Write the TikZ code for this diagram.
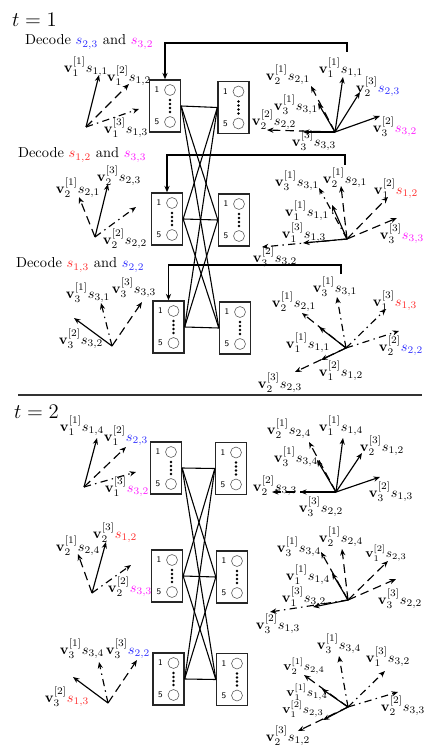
\documentclass[tikz,border=0pt]{standalone}
\usepackage{tikz}
\usepackage{xcolor}
\usetikzlibrary{arrows.meta,calc,positioning}
\definecolor{symblue}{RGB}{45,45,255}
\definecolor{symred}{RGB}{255,45,45}
\definecolor{symmag}{RGB}{255,25,255}
\definecolor{antgray}{RGB}{90,90,90}

\newcommand{\vsym}[3]{$\mathbf{v}_{#1}^{[#2]}#3$}
\newcommand{\antbox}[3]{%
  \node[rxbox] (#1) at (#2,#3) {};
  \node[antcirc] (#1-top) at ($(#1.center)+(5,-16)$) {};
  \node[antcirc] (#1-bot) at ($(#1.center)+(5,16)$) {};
  \node[antnum] (#1-n1) at ($(#1.center)+(-8,-16)$) {1};
  \node[antnum] (#1-n5) at ($(#1.center)+(-8,16)$) {5};
  \foreach \dotpos in {-6,-2,2,6}
    \fill ($(#1.center)+(5,\dotpos)$) circle (0.95pt);
}

\begin{document}
\begin{tikzpicture}[
    x=0.694pt, y=-0.694pt,
    >={Stealth[length=4.5pt, width=3.6pt]},
    rxbox/.style={draw=black!85, line width=0.9pt, minimum width=21.5pt, minimum height=36.1pt, inner sep=0pt},
    antcirc/.style={circle, draw=antgray, line width=0.4pt, minimum size=7.6pt, inner sep=0pt},
    antnum/.style={font=\sffamily\fontsize{6}{6}\selectfont, inner sep=0pt},
    link/.style={line width=0.75pt},
    vsolid/.style={->, line width=0.8pt},
    vdash/.style={->, line width=0.8pt, dash pattern=on 6pt off 3.5pt},
    vdot/.style={->, line width=0.8pt, dash pattern=on 5pt off 3pt on 1pt off 3pt},
    vlab/.style={inner sep=0pt},
    dectxt/.style={anchor=west},
    fback/.style={->, line width=0.8pt}
]
\useasboundingbox (0,0) rectangle (431,748);

% ---------------- t = 1 ----------------
\node[anchor=west, font=\Large] (t1) at (7,20) {$t=1$};
\node[dectxt] (dec1) at (20,42) {Decode $\textcolor{symblue}{s_{2,3}}$ and $\textcolor{symmag}{s_{3,2}}$};
\node[dectxt] (dec2) at (13,155) {Decode $\textcolor{symred}{s_{1,2}}$ and $\textcolor{symmag}{s_{3,3}}$};
\node[dectxt] (dec3) at (11,265) {Decode $\textcolor{symred}{s_{1,3}}$ and $\textcolor{symblue}{s_{2,2}}$};

% Antenna boxes
\antbox{L1}{165}{106}
\antbox{R1}{233.5}{107.5}
\antbox{L2}{167}{219}
\antbox{R2}{234}{220}
\antbox{L3}{168.5}{327}
\antbox{R3}{235}{328}

% Channel links
\foreach \a in {L1,L2,L3}
  \foreach \b in {R1,R2,R3}
    \draw[link] (\a.east) -- (\b.west);

% Feedback
\coordinate (fb1) at (347,52);
\coordinate (fb2) at (345,165);
\coordinate (fb3) at (341,274);
\draw[fback] (fb1) -- ++(0,-9) -| (L1.north);
\draw[fback] (fb2) -- ++(0,-10) -| (L2.north);
\draw[fback] (fb3) -- ++(0,-9) -| (L3.north);

% Tx 1
\path (86,127) coordinate (A) (99,75) coordinate (A1) (129,84) coordinate (A2) (139,109) coordinate (A3);
\draw[vsolid] (A) -- (A1);
\draw[vdash] (A) -- (A2);
\draw[vdot] (A) -- (A3);
\node[vlab] (A1l) at (86,67) {\vsym{1}{1}{s_{1,1}}};
\node[vlab] (A2l) at (129,76) {\vsym{1}{2}{s_{1,2}}};
\node[vlab] (A3l) at (126,128) {\vsym{1}{3}{s_{1,3}}};

% Rx 1
\path (335,132) coordinate (B) (343,77) coordinate (B1) (360,92) coordinate (B2) (380,116) coordinate (B3)
  (311,86) coordinate (B4) (318,103) coordinate (B5) (267,130) coordinate (B6) (303,132) coordinate (B7);
\draw[vsolid] (B) -- (B1);
\draw[vsolid] (B) -- (B2);
\draw[vsolid] (B) -- (B3);
\draw[vdash] (B) -- (B4);
\draw[vsolid] (B) -- (B5);
\draw[vdash] (B) -- (B6);
\draw[vsolid] (B) -- (B7);
\node[vlab] (B1l) at (341,68) {\vsym{1}{1}{s_{1,1}}};
\node[vlab] (B2l) at (378,87) {\vsym{2}{3}{\textcolor{symblue}{s_{2,3}}}};
\node[vlab] (B3l) at (395,127) {\vsym{3}{2}{\textcolor{symmag}{s_{3,2}}}};
\node[vlab] (B4l) at (288,75) {\vsym{2}{1}{s_{2,1}}};
\node[vlab] (B5l) at (296,105) {\vsym{3}{1}{s_{3,1}}};
\node[vlab] (B6l) at (274,120) {\vsym{2}{2}{s_{2,2}}};
\node[vlab] (B7l) at (314,141) {\vsym{3}{3}{s_{3,3}}};

% Tx 2
\path (95,237) coordinate (C) (79,197) coordinate (C1) (108,184) coordinate (C2) (136,207) coordinate (C3);
\draw[vdash] (C) -- (C1);
\draw[vsolid] (C) -- (C2);
\draw[vdot] (C) -- (C3);
\node[vlab] (C1l) at (78,188) {\vsym{2}{1}{s_{2,1}}};
\node[vlab] (C2l) at (119,176) {\vsym{2}{3}{s_{2,3}}};
\node[vlab] (C3l) at (125,239) {\vsym{2}{2}{s_{2,2}}};

% Rx 2
\path (347,239) coordinate (D) (341,186) coordinate (D1) (319,188) coordinate (D2) (332,205) coordinate (D3)
  (388,197) coordinate (D4) (397,218) coordinate (D5) (262,247) coordinate (D6) (303,243) coordinate (D7);
\draw[vdash] (D) -- (D1);
\draw[vdot] (D) -- (D2);
\draw[vsolid] (D) -- (D3);
\draw[vdash] (D) -- (D4);
\draw[vdash] (D) -- (D5);
\draw[vdot] (D) -- (D6);
\draw[vsolid] (D) -- (D7);
\node[vlab] (D1l) at (345,178) {\vsym{2}{1}{s_{2,1}}};
\node[vlab] (D2l) at (297,181) {\vsym{3}{1}{s_{3,1}}};
\node[vlab] (D3l) at (307,211) {\vsym{1}{1}{s_{1,1}}};
\node[vlab] (D4l) at (396,189) {\vsym{1}{2}{\textcolor{symred}{s_{1,2}}}};
\node[vlab] (D5l) at (402,234) {\vsym{3}{3}{\textcolor{symmag}{s_{3,3}}}};
\node[vlab] (D6l) at (275,257) {\vsym{3}{2}{s_{3,2}}};
\node[vlab] (D7l) at (304,233) {\vsym{1}{3}{s_{1,3}}};

% Tx 3
\path (112,346) coordinate (E) (74,318) coordinate (E1) (101,303) coordinate (E2) (142,302) coordinate (E3);
\draw[vsolid] (E) -- (E1);
\draw[vdot] (E) -- (E2);
\draw[vdash] (E) -- (E3);
\node[vlab] (E1l) at (81,339) {\vsym{3}{2}{s_{3,2}}};
\node[vlab] (E2l) at (88,293) {\vsym{3}{1}{s_{3,1}}};
\node[vlab] (E3l) at (134,288) {\vsym{3}{3}{s_{3,3}}};

% Rx 3
\path (346,348) coordinate (F) (337,297) coordinate (F1) (302,313) coordinate (F2) (319,327) coordinate (F3)
  (386,309) coordinate (F4) (399,331) coordinate (F5) (295,372) coordinate (F6) (321,360) coordinate (F7);
\draw[vdot] (F) -- (F1);
\draw[vdash] (F) -- (F2);
\draw[vsolid] (F) -- (F3);
\draw[vdot] (F) -- (F4);
\draw[vdot] (F) -- (F5);
\draw[vdash] (F) -- (F6);
\draw[vsolid] (F) -- (F7);
\node[vlab] (F1l) at (335,287) {\vsym{3}{1}{s_{3,1}}};
\node[vlab] (F2l) at (294,302) {\vsym{2}{1}{s_{2,1}}};
\node[vlab] (F3l) at (308,343) {\vsym{1}{1}{s_{1,1}}};
\node[vlab] (F4l) at (395,301) {\vsym{1}{3}{\textcolor{symred}{s_{1,3}}}};
\node[vlab] (F5l) at (401,346) {\vsym{2}{2}{\textcolor{symblue}{s_{2,2}}}};
\node[vlab] (F6l) at (280,383) {\vsym{2}{3}{s_{2,3}}};
\node[vlab] (F7l) at (341,371) {\vsym{1}{2}{s_{1,2}}};

% Separator
\coordinate (sepL) at (18,395);
\coordinate (sepR) at (422,395);
\draw[line width=0.8pt, black!80] (sepL) -- (sepR);

% ---------------- t = 2 ----------------
\node[anchor=west, font=\Large] (t2) at (9,412) {$t=2$};

\antbox{L4}{166}{468}
\antbox{R4}{231}{468.5}
\antbox{L5}{167}{576}
\antbox{R5}{232}{577}
\antbox{L6}{168.5}{679}
\antbox{R6}{232}{679.5}

\foreach \a in {L4,L5,L6}
  \foreach \b in {R4,R5,R6}
    \draw[link] (\a.east) -- (\b.west);

% Tx 1
\path (84,487) coordinate (G) (97,438) coordinate (G1) (126,447) coordinate (G2) (136,472) coordinate (G3);
\draw[vsolid] (G) -- (G1);
\draw[vdash] (G) -- (G2);
\draw[vdot] (G) -- (G3);
\node[vlab] (G1l) at (82,426) {\vsym{1}{1}{s_{1,4}}};
\node[vlab] (G2l) at (126,436) {\vsym{1}{2}{\textcolor{symblue}{s_{2,3}}}};
\node[vlab] (G3l) at (127,487) {\vsym{1}{3}{\textcolor{symmag}{s_{3,2}}}};

% Rx 1
\path (336,492) coordinate (H) (343,438) coordinate (H1) (362,453) coordinate (H2) (380,477) coordinate (H3)
  (309,442) coordinate (H4) (317,460) coordinate (H5) (272,492) coordinate (H6) (300,492) coordinate (H7);
\draw[vsolid] (H) -- (H1);
\draw[vsolid] (H) -- (H2);
\draw[vsolid] (H) -- (H3);
\draw[vdash] (H) -- (H4);
\draw[vsolid] (H) -- (H5);
\draw[vdash] (H) -- (H6);
\draw[vsolid] (H) -- (H7);
\node[vlab] (H1l) at (341,426) {\vsym{1}{1}{s_{1,4}}};
\node[vlab] (H2l) at (382,446) {\vsym{2}{3}{s_{1,2}}};
\node[vlab] (H3l) at (391,492) {\vsym{3}{2}{s_{1,3}}};
\node[vlab] (H4l) at (289,429) {\vsym{2}{1}{s_{2,4}}};
\node[vlab] (H5l) at (296,457) {\vsym{3}{1}{s_{3,4}}};
\node[vlab] (H6l) at (275,486) {\vsym{2}{2}{s_{3,3}}};
\node[vlab] (H7l) at (321,507) {\vsym{3}{3}{s_{2,2}}};

% Tx 2
\path (92,593) coordinate (I) (78,554) coordinate (I1) (106,542) coordinate (I2) (131,565) coordinate (I3);
\draw[vdash] (I) -- (I1);
\draw[vsolid] (I) -- (I2);
\draw[vdot] (I) -- (I3);
\node[vlab] (I1l) at (78,546) {\vsym{2}{1}{s_{2,4}}};
\node[vlab] (I2l) at (115,533) {\vsym{2}{3}{\textcolor{symred}{s_{1,2}}}};
\node[vlab] (I3l) at (130,587) {\vsym{2}{2}{\textcolor{symmag}{s_{3,3}}}};

% Rx 2
\path (348,600) coordinate (J) (321,552) coordinate (J1) (342,549) coordinate (J2) (332,573) coordinate (J3)
  (388,561) coordinate (J4) (396,579) coordinate (J5) (270,612) coordinate (J6) (313,607) coordinate (J7);
\draw[vdash] (J) -- (J1);
\draw[vdash] (J) -- (J2);
\draw[vsolid] (J) -- (J3);
\draw[vdash] (J) -- (J4);
\draw[vdash] (J) -- (J5);
\draw[vdot] (J) -- (J6);
\draw[vsolid] (J) -- (J7);
\node[vlab] (J1l) at (299,547) {\vsym{3}{1}{s_{3,4}}};
\node[vlab] (J2l) at (341,537) {\vsym{2}{1}{s_{2,4}}};
\node[vlab] (J3l) at (308,575) {\vsym{1}{1}{s_{1,4}}};
\node[vlab, font=\small] (J4l) at (386,553) {\vsym{1}{2}{s_{2,3}}};
\node[vlab] (J5l) at (400,599) {\vsym{3}{3}{s_{2,2}}};
\node[vlab] (J6l) at (278,624) {\vsym{3}{2}{s_{1,3}}};
\node[vlab] (J7l) at (304,597) {\vsym{1}{3}{s_{3,2}}};

% Tx 3
\path (108,703) coordinate (K) (73,677) coordinate (K1) (99,662) coordinate (K2) (137,660) coordinate (K3);
\draw[vsolid] (K) -- (K1);
\draw[vdot] (K) -- (K2);
\draw[vdash] (K) -- (K3);
\node[vlab] (K1l) at (67,697) {\vsym{3}{2}{\textcolor{symred}{s_{1,3}}}};
\node[vlab] (K2l) at (82,649) {\vsym{3}{1}{s_{3,4}}};
\node[vlab] (K3l) at (128,649) {\vsym{3}{3}{\textcolor{symblue}{s_{2,2}}}};

% Rx 3
\path (348,707) coordinate (M) (339,656) coordinate (M1) (385,671) coordinate (M2) (398,692) coordinate (M3)
  (304,675) coordinate (M4) (322,689) coordinate (M5) (298,731) coordinate (M6) (323,720) coordinate (M7);
\draw[vdot] (M) -- (M1);
\draw[vdot] (M) -- (M2);
\draw[vdot] (M) -- (M3);
\draw[vdash] (M) -- (M4);
\draw[vsolid] (M) -- (M5);
\draw[vdash] (M) -- (M6);
\draw[vsolid] (M) -- (M7);
\node[vlab] (M1l) at (339,644) {\vsym{3}{1}{s_{3,4}}};
\node[vlab] (M2l) at (388,657) {\vsym{1}{3}{s_{3,2}}};
\node[vlab] (M3l) at (403,706) {\vsym{2}{2}{s_{3,3}}};
\node[vlab, font=\small] (M4l) at (304,666) {\vsym{2}{1}{s_{2,4}}};
\node[vlab, font=\small] (M5l) at (307,692) {\vsym{1}{1}{s_{1,4}}};
\node[vlab] (M6l) at (288,736) {\vsym{2}{3}{s_{1,2}}};
\node[vlab, font=\small] (M7l) at (303,709) {\vsym{1}{2}{s_{2,3}}};

\end{tikzpicture}
\end{document}
